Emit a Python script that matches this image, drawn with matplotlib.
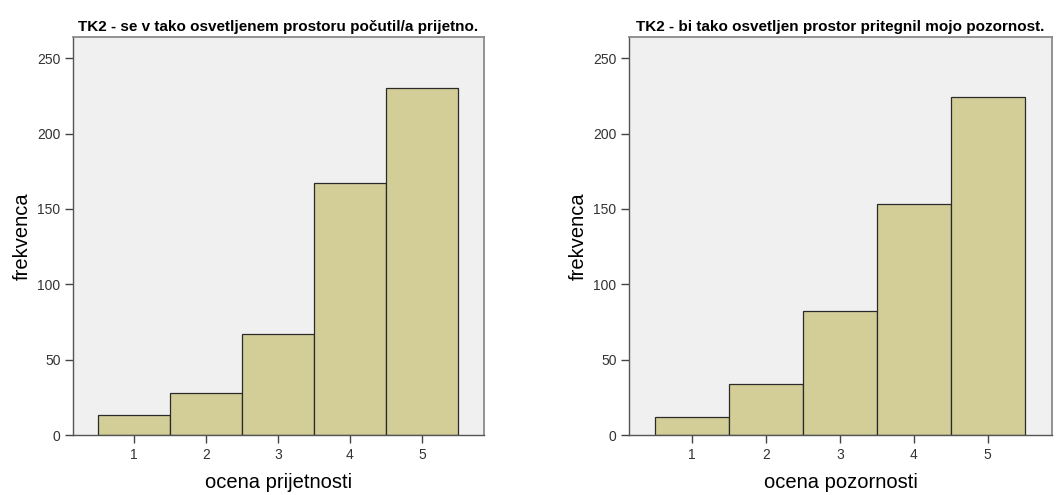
import matplotlib
matplotlib.use("Agg")
import matplotlib.pyplot as plt

plt.rcParams['font.family'] = ['Liberation Sans', 'DejaVu Sans']

categories = [1, 2, 3, 4, 5]
values_left = [13, 28, 67, 167, 230]
values_right = [12, 34, 82, 153, 224]
title_left = "TK2 - se v tako osvetljenem prostoru počutil/a prijetno."
title_right = "TK2 - bi tako osvetljen prostor pritegnil mojo pozornost."
xlabel_left = "ocena prijetnosti"
xlabel_right = "ocena pozornosti"
ylabel = "frekvenca"
yticks = [0, 50, 100, 150, 200, 250]

fig = plt.figure(figsize=(10.56, 4.95), dpi=100)
ax1 = fig.add_axes([0.0691, 0.1212, 0.389, 0.804])
ax2 = fig.add_axes([0.5956, 0.1212, 0.4006, 0.804])

for ax, vals, title, xl, xlim in [
    (ax1, values_left, title_left, xlabel_left, (0.153, 5.86)),
    (ax2, values_right, title_right, xlabel_right, (0.143, 5.87)),
]:
    ax.set_facecolor('#f0f0f0')
    ax.bar(categories, vals, width=1.0, color='#d3ce98', edgecolor='#2a2a2a', linewidth=0.9)
    ax.set_xlim(*xlim)
    ax.set_ylim(0, 264)
    ax.set_xticks(categories)
    ax.set_yticks(yticks)
    ax.tick_params(direction='out', length=6, width=1, colors='#444444', labelsize=10,
                   labelcolor='#333333', pad=3)
    for s in ax.spines.values():
        s.set_color('#8a8a8a')
        s.set_linewidth(1.3)
    ax.spines['left'].set_color('#555555')
    ax.spines['bottom'].set_color('#555555')
    ax.spines['left'].set_linewidth(1)
    ax.spines['bottom'].set_linewidth(1)
    ax.set_title(title, fontsize=11, fontweight='bold', pad=4)
    ax.set_xlabel(xl, fontsize=14.5, labelpad=8)
    ax.set_ylabel(ylabel, fontsize=14.5, labelpad=4)

fig.savefig('out.png', dpi=100)
